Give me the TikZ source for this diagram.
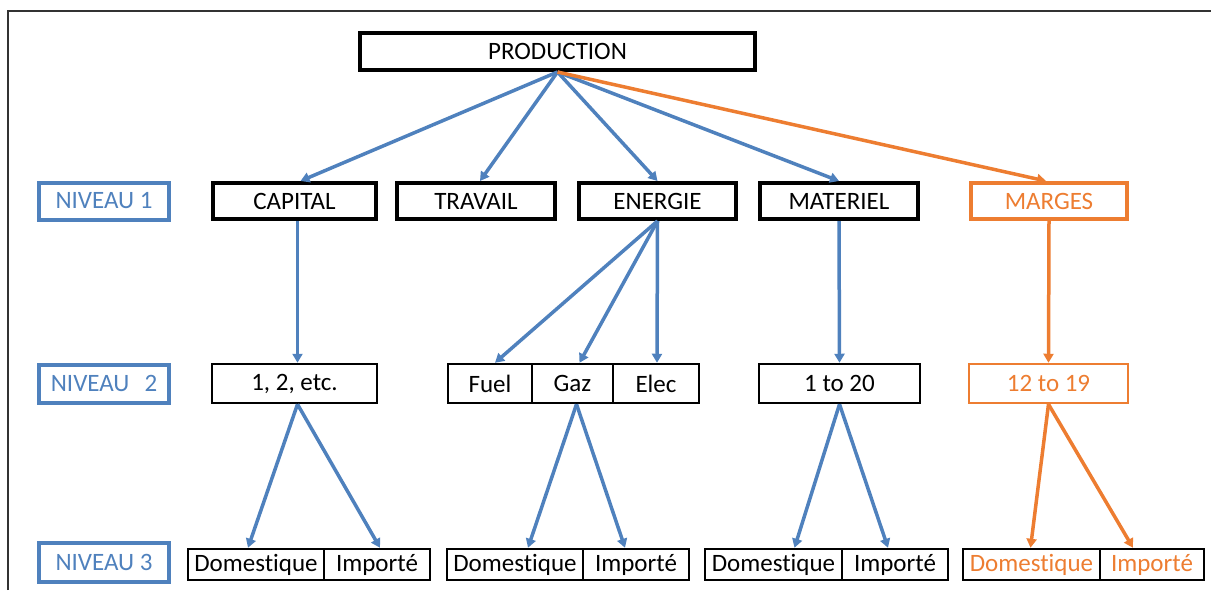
\documentclass[tikz,border=0pt]{standalone}
\usepackage{fontspec}
\setmainfont{Carlito}[Ligatures={NoCommon,NoContextual}]
\usetikzlibrary{arrows.meta}
\definecolor{ublue}{HTML}{4F81BD}
\definecolor{uorange}{HTML}{ED7D31}
\tikzset{
  every node/.style={font=\fontsize{25}{29}\selectfont, inner sep=0pt, anchor=center},
  bigbox/.style={draw=black, line width=4pt, text=black},
  smallbox/.style={draw=black, line width=2.5pt, text=black},
  lvlbox/.style={draw=ublue, line width=4pt, text=ublue},
  obig/.style={draw=uorange, line width=4pt, text=uorange},
  osmall/.style={draw=uorange, line width=2.5pt, text=uorange},
  ocell/.style={draw=black, line width=2.5pt, text=uorange},
  barrow/.style={draw=ublue, line width=3.5pt, -{Triangle[length=9pt,width=10pt]}},
  oarrow/.style={draw=uorange, line width=3.5pt, -{Triangle[length=9pt,width=10pt]}},
  frameline/.style={draw=black!80, line width=1.2pt}
}
\begin{document}
\begin{tikzpicture}[x=1pt,y=-1pt]
\useasboundingbox (0,0) rectangle (1211,590);
\coordinate (fa) at (8,590);
\coordinate (fb) at (8,11);
\coordinate (fc) at (1211,11);
\draw[frameline] (fa) -- (fb) -- (fc);

% top
\node[bigbox, minimum width=395pt, minimum height=37pt] (prod) at (557.5,51.5) {PRODUCTION};

% level 1
\node[lvlbox, minimum width=130pt, minimum height=37pt] (niv1) at (104,201) {NIVEAU 1};
\node[bigbox, minimum width=163pt, minimum height=36pt] (capital) at (294.5,201) {CAPITAL};
\node[bigbox, minimum width=158pt, minimum height=36pt] (travail) at (476,201) {TRAVAIL};
\node[bigbox, minimum width=157pt, minimum height=36pt] (energie) at (657.5,201) {ENERGIE};
\node[bigbox, minimum width=158pt, minimum height=36pt] (materiel) at (839,201) {MATERIEL};
\node[obig, minimum width=156pt, minimum height=36pt] (marges) at (1049,201) {MARGES};

% level 2
\node[lvlbox, minimum width=130pt, minimum height=38pt] (niv2) at (104,383.5) {NIVEAU\hspace{0.6em}2};
\node[smallbox, minimum width=165pt, minimum height=39pt] (l2a) at (294.5,383.5) {1, 2, etc.};
\node[smallbox, minimum width=84pt, minimum height=39pt] (fuel) at (490,383.5) {Fuel};
\node[smallbox, minimum width=81pt, minimum height=39pt] (gaz) at (572.5,383.5) {Gaz};
\node[smallbox, minimum width=86pt, minimum height=39pt] (elec) at (656,383.5) {Elec};
\node[smallbox, minimum width=161pt, minimum height=39pt] (l2m) at (839.5,383.5) {1 to 20};
\node[osmall, minimum width=159pt, minimum height=39pt] (l2g) at (1048.5,383.5) {12 to 19};

% level 3
\node[lvlbox, minimum width=130pt, minimum height=39pt] (niv3) at (104,562.5) {NIVEAU 3};
\node[smallbox, minimum width=136pt, minimum height=31pt] (d1) at (256,564.5) {Domestique};
\node[smallbox, minimum width=106pt, minimum height=31pt] (i1) at (377,564.5) {Importé};
\node[smallbox, minimum width=136pt, minimum height=31pt] (d2) at (515,564.5) {Domestique};
\node[smallbox, minimum width=106pt, minimum height=31pt] (i2) at (636,564.5) {Importé};
\node[smallbox, minimum width=137pt, minimum height=31pt] (d3) at (773.5,564.5) {Domestique};
\node[smallbox, minimum width=106pt, minimum height=31pt] (i3) at (895,564.5) {Importé};
\node[ocell, minimum width=137pt, minimum height=31pt] (d4) at (1031.5,564.5) {Domestique};
\node[ocell, minimum width=104pt, minimum height=31pt] (i4) at (1152,564.5) {Importé};

% arrows from production
\draw[barrow] (prod.south) -- ([xshift=6pt]capital.north);
\draw[barrow] (prod.south) -- ([xshift=4pt]travail.north);
\draw[barrow] (prod.south) -- (energie.north);
\draw[barrow] (prod.south) -- (materiel.north);
\draw[oarrow] (prod.south) -- ([xshift=-3pt]marges.north);

% level1 -> level2
\draw[barrow] ([xshift=3pt]capital.south) -- ([xshift=3pt]l2a.north);
\draw[barrow] (energie.south) -- ([xshift=5pt]fuel.north);
\draw[barrow] (energie.south) -- ([xshift=7pt]gaz.north);
\draw[barrow] (energie.south) -- ([xshift=1pt]elec.north);
\draw[barrow] (materiel.south) -- (l2m.north);
\draw[oarrow] (marges.south) -- (l2g.north);

% level2 -> level3
\draw[barrow] ([xshift=3pt]l2a.south) -- ([xshift=-8pt]d1.north);
\draw[barrow] ([xshift=3pt]l2a.south) -- ([xshift=3pt]i1.north);
\draw[barrow] ([xshift=4pt]gaz.south) -- ([xshift=13pt]d2.north);
\draw[barrow] ([xshift=4pt]gaz.south) -- ([xshift=-11pt]i2.north);
\draw[barrow] (l2m.south) -- ([xshift=21pt]d3.north);
\draw[barrow] (l2m.south) -- ([xshift=-7pt]i3.north);
\draw[oarrow] (l2g.south) -- ([xshift=-1pt]d4.north);
\draw[oarrow] (l2g.south) -- ([xshift=-19pt]i4.north);
\end{tikzpicture}
\end{document}
